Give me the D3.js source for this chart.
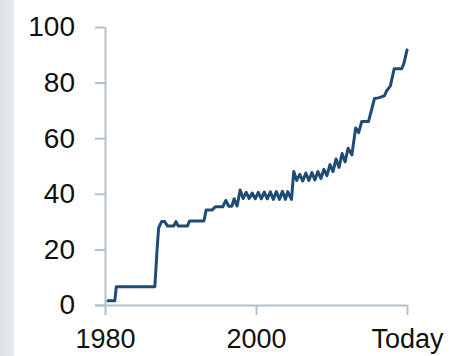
<!DOCTYPE html>
<html>
<head>
<meta charset="utf-8">
<script src="https://cdn.jsdelivr.net/npm/d3@7"></script>
<style>
html,body{margin:0;padding:0;background:#fff;}
svg{display:block;}
</style>
</head>
<body>
<script>
// Data
const years = [1980.4,1981.3,1981.5,1986.6,1986.9,1987.1,1987.5,1987.9,1988.3,1989.1,1989.4,1989.7,1990.9,1991.2,1993.1,1993.4,1994.2,1994.6,1995.6,1996.0,1996.4,1996.8,1997.1,1997.5,1997.9,1998.3,1998.7,1999.1,1999.5,1999.9,2000.3,2000.7,2001.1,2001.5,2001.9,2002.3,2002.7,2003.1,2003.5,2003.9,2004.2,2004.7,2005.0,2005.4,2005.8,2006.2,2006.6,2007.0,2007.4,2007.8,2008.2,2008.6,2009.0,2009.4,2009.8,2010.2,2010.6,2011.0,2011.4,2011.8,2012.2,2012.7,2013.2,2013.6,2014.0,2014.9,2015.7,2016.2,2017.0,2017.3,2017.8,2018.3,2019.3,2019.6,2020.0];
const values = [1.5,1.5,6.6,6.6,20,27.7,30,30,28.4,28.4,30,28.4,28.4,30.2,30.2,34.2,34.2,35.3,35.3,37.6,35.5,35.5,38.2,35.6,41.4,38.3,40.5,38.3,40.3,38.2,40.5,38.2,40.6,38.2,40.7,38.0,40.8,38.0,40.9,38.0,40.8,38.0,48,44.8,47,44.6,47.5,44.8,47.6,45.0,48.0,45.5,48.8,46.5,50.5,48.0,52.5,49.5,54.5,51.5,56.4,54.0,63.7,62.0,66,66,74.3,74.5,75.2,77.0,78.8,85,85,87,91.7];
const xTickValues = [1980, 2000, 2020];
const xTickLabels = ["1980", "2000", "Today"];
const yTickValues = [0, 20, 40, 60, 80, 100];

const W = 452, H = 356;
const svg = d3.select("body").append("svg").attr("width", W).attr("height", H);

// left light strip
const defs = svg.append("defs");
const grad = defs.append("linearGradient").attr("id","strip").attr("x1","0").attr("x2","1").attr("y1","0").attr("y2","0");
grad.append("stop").attr("offset","0").attr("stop-color","#dbe2e8");
grad.append("stop").attr("offset","1").attr("stop-color","#e4e9ee");
svg.append("rect").attr("x",0).attr("y",0).attr("width",14).attr("height",H).attr("fill","url(#strip)");

const x = d3.scaleLinear().domain([1980, 2020]).range([105, 407]);
const y = d3.scaleLinear().domain([0, 100]).range([305, 27]);

const axisColor = "#b3bfcc";
const fontFamily = "'Liberation Sans', Arial, sans-serif";

const yAxis = svg.append("g").attr("transform", `translate(${x(1980)},0)`)
  .call(d3.axisLeft(y).tickValues(yTickValues).tickSize(10).tickSizeOuter(0).tickPadding(20));
const xAxis = svg.append("g").attr("transform", `translate(0,${y(0)})`)
  .call(d3.axisBottom(x).tickValues(xTickValues).tickFormat((d,i)=>xTickLabels[i]).tickSize(10).tickSizeOuter(0).tickPadding(14));

[xAxis, yAxis].forEach(g => {
  g.select(".domain").attr("stroke", axisColor).attr("stroke-width", 2);
  g.selectAll(".tick line").attr("stroke", axisColor).attr("stroke-width", 2);
  g.selectAll(".tick text").attr("fill", "#111").style("font-family", fontFamily).style("font-size", "27px");
});
yAxis.selectAll(".tick text").style("font-size", "28px");
// extend x axis line left to the 0 tick end
xAxis.select(".domain").attr("d", `M${x(1980)-10},0.5H${x(2020)}`);

const pts = years.map((d,i)=>[d, values[i]]);
const line = d3.line().x(d=>x(d[0])).y(d=>y(d[1]));
svg.append("path").datum(pts).attr("d", line)
  .attr("fill","none").attr("stroke","#1f4b77").attr("stroke-width",3)
  .attr("stroke-linejoin","round").attr("stroke-linecap","round");
</script>
</body>
</html>
